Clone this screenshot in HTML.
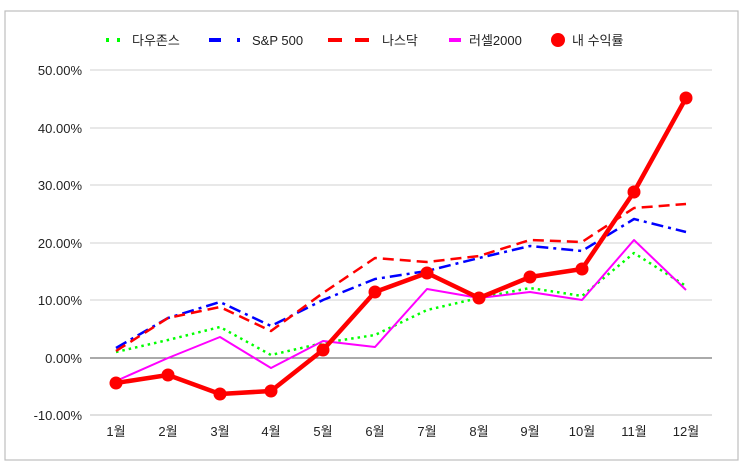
<!DOCTYPE html>
<html><head><meta charset="utf-8"><style>
html,body{margin:0;padding:0;background:#fff;}
svg{display:block;font-family:"Liberation Sans","Noto Sans CJK KR",sans-serif;}
</style></head><body>
<svg width="743" height="468" viewBox="0 0 743 468">
<rect x="5" y="11" width="733" height="449" fill="#fff" stroke="#bdbdbd" stroke-width="1.2"/>
<g stroke="#d0d0d0" stroke-width="1">
<line x1="90" x2="712" y1="70" y2="70"/>
<line x1="90" x2="712" y1="128" y2="128"/>
<line x1="90" x2="712" y1="185" y2="185"/>
<line x1="90" x2="712" y1="243" y2="243"/>
<line x1="90" x2="712" y1="300" y2="300"/>
<line x1="90" x2="712" y1="415" y2="415" stroke-width="2" stroke="#e0e0e0"/>
</g>
<line x1="90" x2="712" y1="358" y2="358" stroke="#777" stroke-width="1.3"/>
<g font-size="13" fill="#222" text-anchor="end">
<text x="82" y="75">50.00%</text>
<text x="82" y="133">40.00%</text>
<text x="82" y="190">30.00%</text>
<text x="82" y="248">20.00%</text>
<text x="82" y="305">10.00%</text>
<text x="82" y="363">0.00%</text>
<text x="82" y="420">-10.00%</text>
</g>
<g font-size="13" fill="#222" text-anchor="middle">
<text x="116" y="436">1월</text><text x="168" y="436">2월</text><text x="220" y="436">3월</text><text x="271" y="436">4월</text><text x="323" y="436">5월</text><text x="375" y="436">6월</text><text x="427" y="436">7월</text><text x="479" y="436">8월</text><text x="530" y="436">9월</text><text x="582" y="436">10월</text><text x="634" y="436">11월</text><text x="686" y="436">12월</text>
</g>
<g fill="none" stroke-linejoin="round">
<polyline stroke="#00ff00" stroke-width="2.5" stroke-dasharray="2.5,4" points="116,352 168,340 220,327 271,355 323,343 375,335 427,310 479,298 530,288 582,296 634,253 686,286"/>
<polyline stroke="#ff00ff" stroke-width="2" points="116,381 168,358 220,337 271,368 323,341 375,347 427,289 479,298 530,292 582,300 634,240 686,290"/>
<polyline stroke="#0000ff" stroke-width="2.5" stroke-dasharray="12,5,3,5" points="116,348 168,318 220,302 271,326 323,300 375,279 427,271 479,258 530,246 582,251 634,219 686,232"/>
<polyline stroke="#ff0000" stroke-width="2.5" stroke-dasharray="11,6" points="116,351 168,318 220,307 271,331 323,293 375,258 427,262 479,256 530,240 582,242 634,208 686,204"/>
<polyline stroke="#ff0000" stroke-width="4.5" points="116,383 168,375 220,394 271,391 323,350 375,292 427,273 479,298 530,277 582,269 634,192 686,98"/>
</g>
<g fill="#ff0000">
<circle cx="116" cy="383" r="6.5"/><circle cx="168" cy="375" r="6.5"/><circle cx="220" cy="394" r="6.5"/><circle cx="271" cy="391" r="6.5"/><circle cx="323" cy="350" r="6.5"/><circle cx="375" cy="292" r="6.5"/><circle cx="427" cy="273" r="6.5"/><circle cx="479" cy="298" r="6.5"/><circle cx="530" cy="277" r="6.5"/><circle cx="582" cy="269" r="6.5"/><circle cx="634" cy="192" r="6.5"/><circle cx="686" cy="98" r="6.5"/>
</g>
<g font-size="13" fill="#222">
<rect x="106" y="38" width="3" height="4" fill="#00ff00"/><rect x="117" y="38" width="3" height="4" fill="#00ff00"/>
<text x="132" y="45">다우존스</text>
<rect x="209" y="38" width="12" height="4" fill="#0000ff"/><rect x="237" y="38" width="3" height="4" fill="#0000ff"/>
<text x="252" y="45">S&amp;P 500</text>
<rect x="328" y="38" width="14" height="4" fill="#ff0000"/><rect x="355" y="38" width="14" height="4" fill="#ff0000"/>
<text x="382" y="45">나스닥</text>
<rect x="449" y="38" width="12" height="4" fill="#ff00ff"/>
<text x="469" y="45">러셀2000</text>
<circle cx="558" cy="40" r="7" fill="#ff0000"/>
<text x="572" y="45">내 수익률</text>
</g>
</svg>
</body></html>
